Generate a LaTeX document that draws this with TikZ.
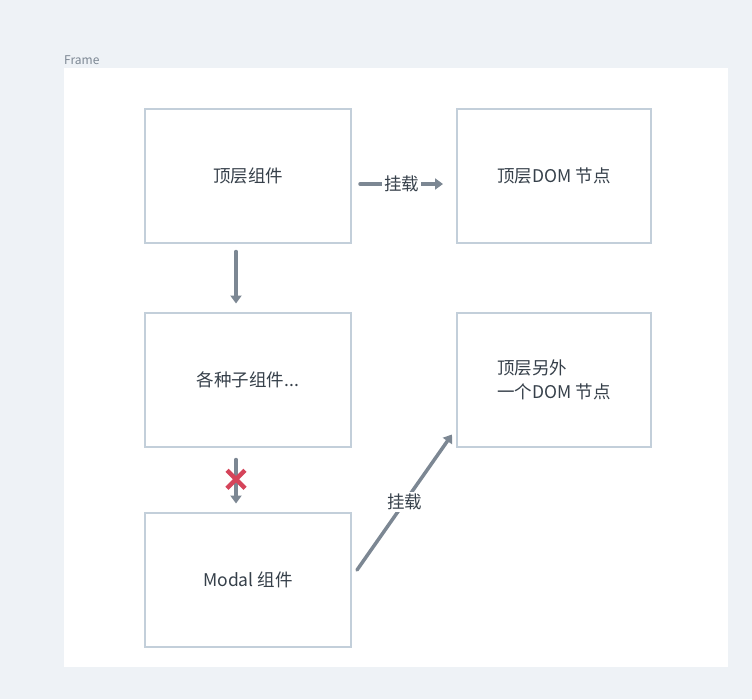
\documentclass[tikz,border=0pt]{standalone}
\usepackage{fontspec}
\setmainfont{Noto Sans CJK SC}
\usetikzlibrary{arrows.meta, positioning}
\definecolor{bggray}{HTML}{EEF2F6}
\definecolor{boxline}{HTML}{C3CFDA}
\definecolor{linkgray}{HTML}{7C8793}
\definecolor{ink}{HTML}{36404A}
\definecolor{crossred}{HTML}{D5445A}

\begin{document}
\begin{tikzpicture}[x=1pt, y=-1pt, on grid,
    box/.style={draw=boxline, line width=2pt, minimum width=206pt, minimum height=134pt,
      text=ink, font=\fontsize{17.5}{24}\selectfont},
    narrow/.style={box, minimum width=194pt},
    link/.style={draw=linkgray, line width=3.5pt, line cap=round, -{Triangle[length=8pt,width=11pt]}},
    tag/.style={fill=white, text=ink, inner sep=2pt, font=\fontsize{17.5}{20}\selectfont},
    cross/.style={draw=crossred, line width=4.5pt}]
    % canvas and frame
    \useasboundingbox (0,0) rectangle (752,699);
    \fill[bggray] (0,0) rectangle (752,699);
    \fill[white] (64,68) rectangle (728,667);
    \node[anchor=base west, inner sep=0pt, text=linkgray, font=\fontsize{12}{14}\selectfont] (frame) at (64,64.5) {Frame};

    \node[box] (top) at (248,175.5) {顶层组件};
    \node[narrow] (dom) [right=306pt of top] {顶层DOM 节点};
    \node[box] (sub) [below=204pt of top] {各种子组件...};
    \node[narrow, align=left] (other) [right=306pt of sub] {顶层另外\\一个DOM 节点};
    \node[box] (modal) [below=200pt of sub] {Modal 组件};

    \draw[link] ([xshift=8pt,yshift=-8.5pt]top.east) -- node[tag] {挂载} ([xshift=-13pt,yshift=-8.5pt]dom.west);
    \draw[link] ([xshift=-12pt,yshift=-8pt]top.south) -- ([xshift=-12pt,yshift=8pt]sub.north);
    \draw[link] ([xshift=-12pt,yshift=-12pt]sub.south) -- coordinate[pos=0.45] (cut) ([xshift=-12pt,yshift=8pt]modal.north);
    \draw[link] ([xshift=5pt,yshift=9.5pt]modal.east) -- node[tag] {挂载} ([xshift=-4pt,yshift=13pt]other.south west);
    % blocked link
    \draw[cross] ([shift={(-9pt,-9pt)}]cut) -- ([shift={(9pt,9pt)}]cut)
                 ([shift={(-9pt,9pt)}]cut) -- ([shift={(9pt,-9pt)}]cut);
\end{tikzpicture}
\end{document}
